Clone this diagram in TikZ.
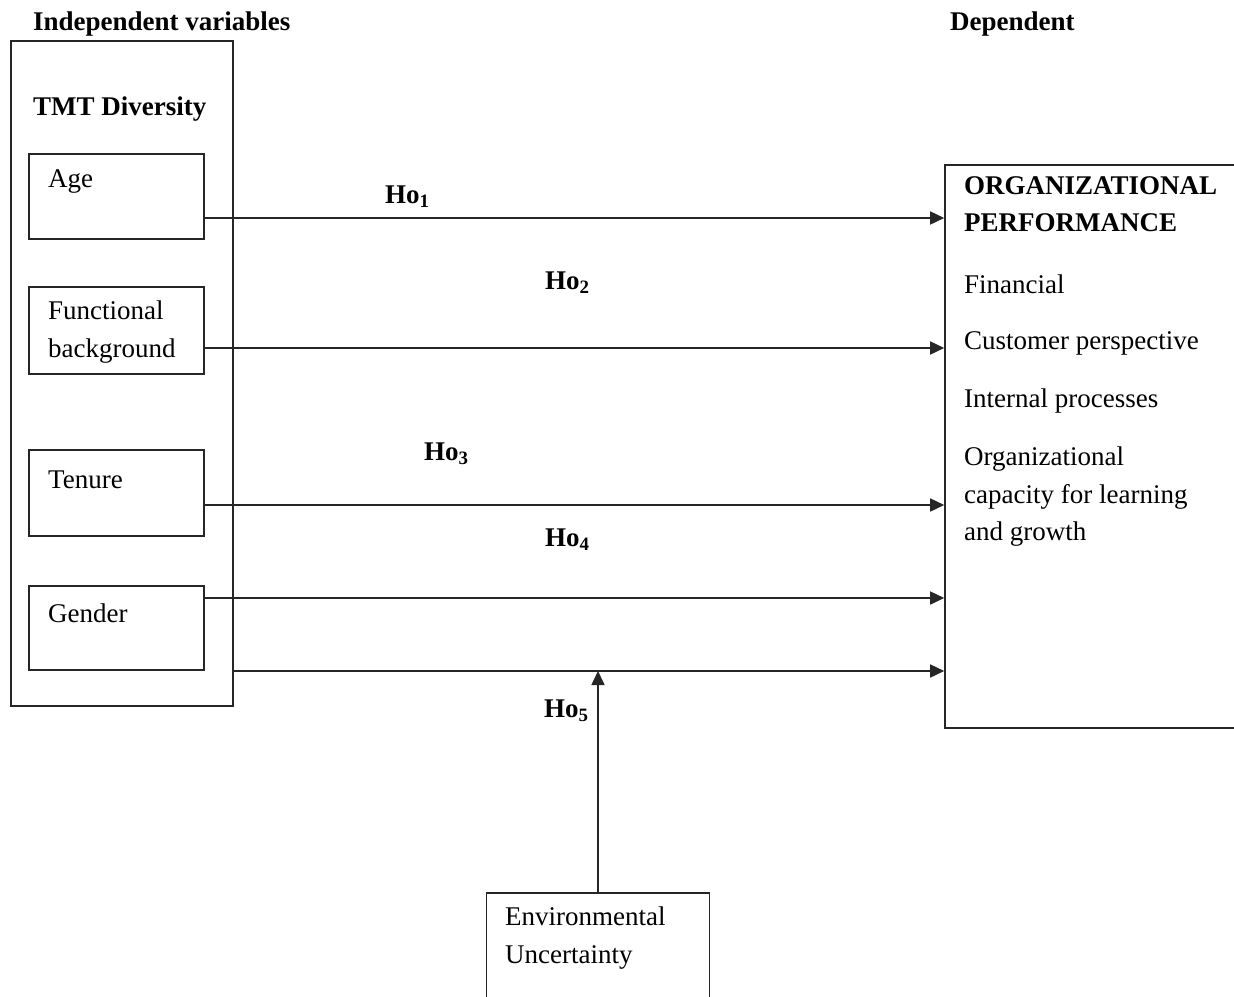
\documentclass[tikz,border=0pt]{standalone}
\usepackage{fontspec}
\setmainfont{Liberation Serif}
\usetikzlibrary{arrows.meta}
\begin{document}
\begin{tikzpicture}[x=1pt,y=-1pt,
  box/.style={draw=black!85,line width=1.6pt,inner sep=0pt},
  txt/.style={anchor=west,inner sep=0pt,align=left,font=\fontsize{27}{37.5}\selectfont},
  btxt/.style={txt,font=\fontsize{27}{37.5}\selectfont\bfseries},
  arr/.style={draw=black!85,line width=1.6pt,-{Triangle[length=14pt,width=13pt]}}]
\useasboundingbox (0,0) rectangle (1234,996);
\clip (0,0) rectangle (1234,996);
% headings
\node[btxt] (hind) at (33,24) {Independent variables};
\node[btxt] (hdep) at (950,24) {Dependent};
% left boxes
\node[box,minimum width=222pt,minimum height=665pt] (outer) at (122,373.5) {};
\node[btxt] (tmt) at (33,109) {TMT Diversity};
\node[box,minimum width=175pt,minimum height=85pt] (age) at (116.5,196.5) {};
\node[txt] (tage) at (48,181) {Age};
\node[box,minimum width=175pt,minimum height=87pt] (func) at (116.5,330.5) {};
\node[txt] (tfunc) at (48,332) {Functional\\background};
\node[box,minimum width=175pt,minimum height=86pt] (ten) at (116.5,493) {};
\node[txt] (tten) at (48,480) {Tenure};
\node[box,minimum width=175pt,minimum height=84pt] (gen) at (116.5,628) {};
\node[txt] (tgen) at (48,613) {Gender};
% right box
\node[box,minimum width=315pt,minimum height=563pt] (perf) at (1102.5,446.5) {};
\node[btxt] (tperf) at (964,204) {ORGANIZATIONAL\\PERFORMANCE};
\node[txt] (tfin) at (964,284) {Financial};
\node[txt] (tcus) at (964,343) {Customer perspective};
\node[txt] (tint) at (964,401) {Internal processes};
\node[txt] (torg) at (964,497) {Organizational\\capacity for learning\\and growth};
% environment box
\node[box,minimum width=223pt,minimum height=117pt] (env) at (598,951.5) {};
\node[txt] (tenv) at (505,938) {Environmental\\Uncertainty};
% arrow levels
\coordinate (c1) at (945,218);
\coordinate (c2) at (945,348);
\coordinate (c3) at (945,505);
\coordinate (c4) at (945,598);
\coordinate (c5) at (945,671);
\draw[arr] (age.east |- c1) -- (perf.west |- c1);
\draw[arr] (func.east |- c2) -- (perf.west |- c2);
\draw[arr] (ten.east |- c3) -- (perf.west |- c3);
\draw[arr] (gen.east |- c4) -- (perf.west |- c4);
\draw[arr] (outer.east |- c5) -- (perf.west |- c5);
\draw[arr] (env.north) -- (env.north |- c5);
% hypothesis labels
\node[btxt] (h1) at (385,197) {Ho\textsubscript{1}};
\node[btxt] (h2) at (545,283) {Ho\textsubscript{2}};
\node[btxt] (h3) at (424,454) {Ho\textsubscript{3}};
\node[btxt] (h4) at (545,540) {Ho\textsubscript{4}};
\node[btxt] (h5) at (544,711) {Ho\textsubscript{5}};
\end{tikzpicture}
\end{document}
